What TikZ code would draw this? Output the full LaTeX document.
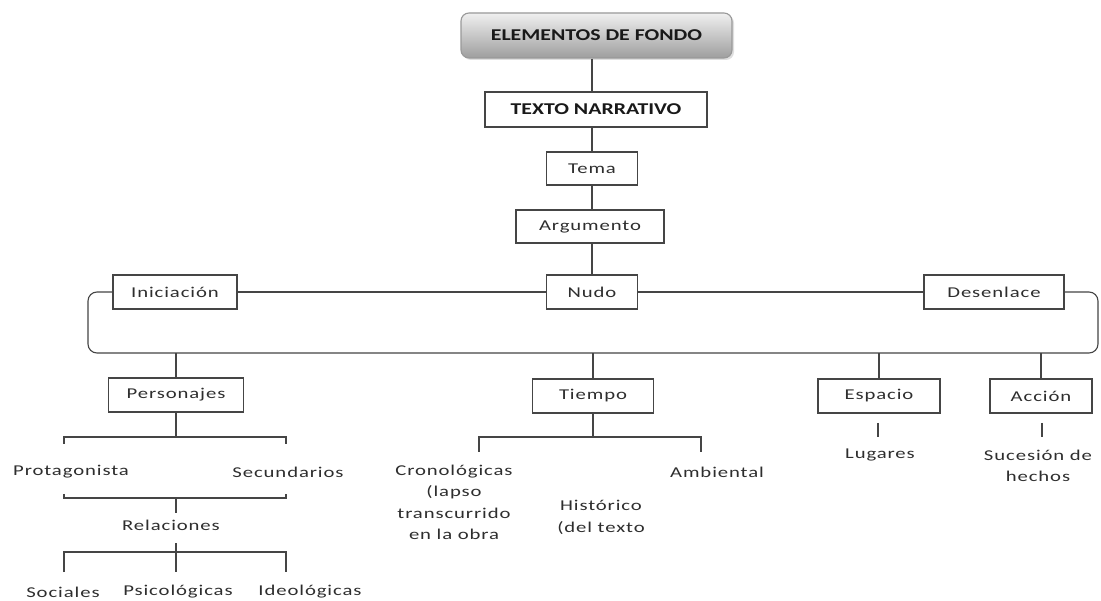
\documentclass[tikz,border=0pt]{standalone}
\usepackage{fontspec}
\setmainfont{Carlito}[FakeStretch=1.38, LetterSpace=6]
\newfontfamily\titlefont{Carlito}[FakeStretch=1.32]
\usetikzlibrary{shadows}
\definecolor{linec}{HTML}{454545}
\definecolor{txtc}{HTML}{2E2E2E}
\begin{document}
\begin{tikzpicture}[x=1pt,y=-1pt,
  every node/.style={text=txtc, font=\fontsize{15}{21.5}\selectfont},
  box/.style={draw=linec, line width=1.1pt, fill=white, inner sep=0pt, minimum height=34pt},
  lbl/.style={inner sep=0pt, align=center},
  conn/.style={draw=linec, line width=1.1pt},
  title/.style={font=\titlefont\bfseries\fontsize{16.5}{18}\selectfont, text=black!90}
]
\useasboundingbox[fill=white] (0,0) rectangle (1101,601);

% top chain
\node[box, title, rounded corners=8pt, top color=black!6, bottom color=black!38, draw=black!40,
  minimum width=271pt, minimum height=45pt,
  drop shadow={shadow xshift=2pt, shadow yshift=-2pt, opacity=0.25}] (ef) at (596.5,35.5) {ELEMENTOS DE FONDO};
\node[box, title, minimum width=222pt, minimum height=35pt] (tn) at (596,109.5) {TEXTO NARRATIVO};
\node[box, minimum width=91pt, minimum height=33pt] (tema) at (592,168.5) {Tema};
\node[box, minimum width=148pt, minimum height=33pt] (arg) at (590,226.5) {Argumento};

% middle row
\node[box, minimum width=124pt] (ini) at (175,292) {Iniciación};
\node[box, minimum width=91pt] (nudo) at (592,292) {Nudo};
\node[box, minimum width=140pt] (des) at (994,292) {Desenlace};

% lower boxes
\node[box, minimum width=135pt] (pers) at (176,395) {Personajes};
\node[box, minimum width=121pt] (tiem) at (593,396) {Tiempo};
\node[box, minimum width=122pt] (esp) at (879,396) {Espacio};
\node[box, minimum width=102pt] (acc) at (1041,396) {Acción};

% labels
\node[lbl] (prot) at (71,472) {Protagonista};
\node[lbl] (sec) at (288,472) {Secundarios};
\node[lbl] (rel) at (171,525) {Relaciones};
\node[lbl] (soc) at (63,592) {Sociales};
\node[lbl] (psi) at (178,592) {Psicológicas};
\node[lbl] (ideo) at (310,592) {Ideológicas};
\node[lbl] (cron) at (454,502.5) {Cronológicas\\(lapso\\transcurrido\\en la obra};
\node[lbl] (hist) at (601,517.5) {Histórico\\(del texto};
\node[lbl] (amb) at (717,472) {Ambiental};
\node[lbl] (lug) at (880,455) {Lugares};
\node[lbl] (suc) at (1038,466) {Sucesión de\\hechos};

% coordinates
\coordinate (bl) at (88,353);
\coordinate (br) at (1098,353);
\coordinate (pa) at (64,437);  \coordinate (pb) at (286,437);
\coordinate (pa2) at (64,444); \coordinate (pb2) at (286,444);
\coordinate (qa1) at (64,494); \coordinate (qb1) at (286,494);
\coordinate (qa2) at (64,498); \coordinate (qb2) at (286,498);
\coordinate (rtop) at (176,513);
\coordinate (rbot) at (176,543);
\coordinate (ra) at (64,552);  \coordinate (rb) at (286,552);
\coordinate (ra2) at (64,572); \coordinate (rb2) at (286,572);
\coordinate (rc2) at (176,572);
\coordinate (ta) at (479,437); \coordinate (tb) at (701,437);
\coordinate (ta2) at (479,452); \coordinate (tb2) at (701,452);
\coordinate (e1) at (878,423); \coordinate (e2) at (878,437);
\coordinate (a1) at (1042,423); \coordinate (a2) at (1042,437);

% connectors
\draw[conn] (ef.south -| tema) -- (tn.north -| tema);
\draw[conn] (tn.south -| tema) -- (tema.north);
\draw[conn] (tema.south) -- (arg.north -| tema);
\draw[conn] (arg.south -| nudo) -- (nudo.north);
\draw[conn] (ini.east) -- (nudo.west);
\draw[conn] (nudo.east) -- (des.west);
\draw[conn, rounded corners=9pt] (ini.west) -- (bl |- ini.west) -- (bl) -- (br) -- (br |- des.east) -- (des.east);
\draw[conn] (pers.north) -- (pers.north |- bl);
\draw[conn] (tiem.north) -- (tiem.north |- bl);
\draw[conn] (esp.north) -- (esp.north |- bl);
\draw[conn] (acc.north) -- (acc.north |- bl);

% Personajes tree
\draw[conn] (pers.south) -- (pers.south |- pa);
\draw[conn] (pa2) -- (pa) -- (pb) -- (pb2);
\draw[conn] (qa1) -- (qa2) -- (qb2) -- (qb1);
\draw[conn] (pers |- qa2) -- (rtop);
\draw[conn] (rbot) -- (rc2);
\draw[conn] (ra2) -- (ra) -- (rb) -- (rb2);

% Tiempo tree
\draw[conn] (tiem.south) -- (tiem.south |- ta);
\draw[conn] (ta2) -- (ta) -- (tb) -- (tb2);

% Espacio / Accion
\draw[conn] (e1) -- (e2);
\draw[conn] (a1) -- (a2);
\end{tikzpicture}
\end{document}
